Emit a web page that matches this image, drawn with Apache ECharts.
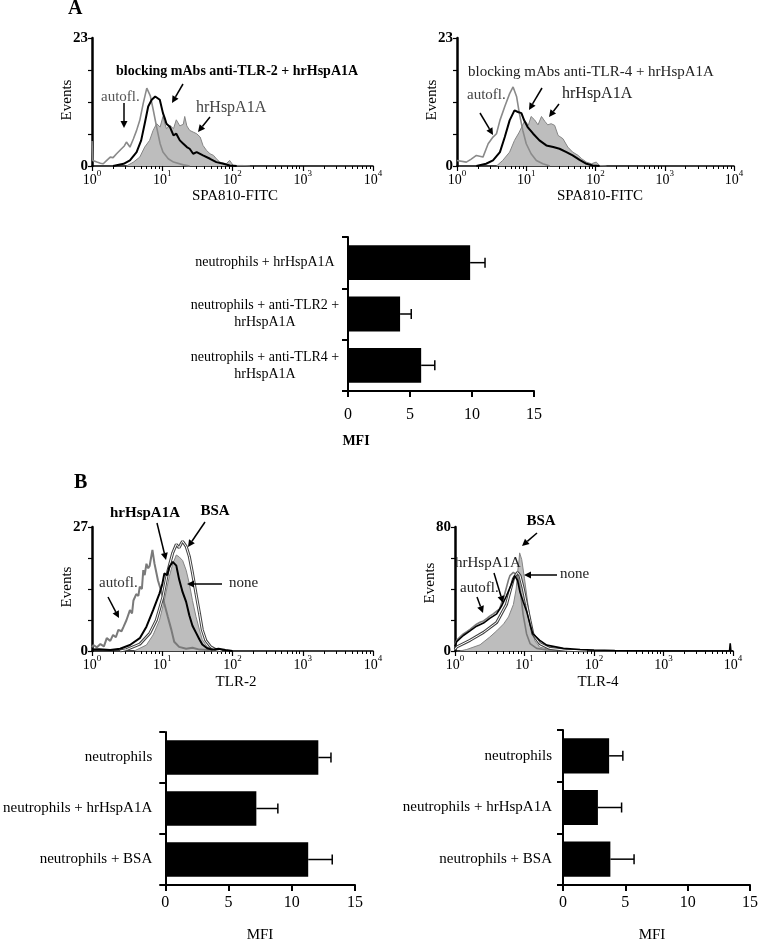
<!DOCTYPE html>
<html><head><meta charset="utf-8">
<script src="https://cdn.jsdelivr.net/npm/echarts@6/dist/echarts.min.js"></script>
<style>html,body{margin:0;padding:0;background:#fff}#c{width:761px;height:942px}</style>
</head><body><div id="c"></div>
<script>
// ---------- DATA (x = log10 fluorescence, y = events) ----------
const a1Autofl = [[0,4.5],[0.01,1.0],[0.07,0.7],[0.12,0.5],[0.16,0.4],[0.21,1.0],[0.26,1.6],[0.3,1.5],[0.35,2.2],[0.42,3.1],[0.46,3.6],[0.49,4.3],[0.54,3.4],[0.59,4.9],[0.635,6.4],[0.68,8.2],[0.73,11.3],[0.78,14.0],[0.80,14.3],[0.83,12.6],[0.87,10.2],[0.92,7.0],[0.97,4.0],[1.01,2.5],[1.085,1.3],[1.16,0.7],[1.3,0.2],[1.39,0.0]];
const a1Blocking = [[0.3,0],[0.45,0.4],[0.54,1.0],[0.635,2.5],[0.7,4.6],[0.75,7.6],[0.8,10.7],[0.85,11.9],[0.9,12.5],[0.92,12.8],[0.965,11.9],[1.01,9.5],[1.035,8.6],[1.06,7.6],[1.11,7.0],[1.16,5.5],[1.2,5.8],[1.25,4.6],[1.3,4.0],[1.35,3.4],[1.39,3.1],[1.44,2.2],[1.49,2.5],[1.58,1.9],[1.68,1.3],[1.77,0.7],[1.87,0.4],[1.96,0.1],[2.06,0]];
const a1Hsp = [[0.49,0],[0.59,0.7],[0.68,1.6],[0.75,3.4],[0.82,4.6],[0.87,6.4],[0.92,7.6],[0.97,7.0],[1.01,8.9],[1.04,7.5],[1.06,6.7],[1.11,7.3],[1.16,6.7],[1.2,8.3],[1.25,7.2],[1.3,7.5],[1.32,8.9],[1.35,7.2],[1.39,6.4],[1.44,6.1],[1.49,5.8],[1.54,5.2],[1.58,3.7],[1.63,2.8],[1.68,2.2],[1.73,1.9],[1.77,1.3],[1.82,0.7],[1.91,0.4],[1.96,1.0],[2.01,0.1],[2.15,0.1],[2.25,0]];

const a2Autofl = [[0,1.0],[0.01,0.7],[0.135,0.7],[0.2,1.2],[0.28,1.9],[0.375,1.6],[0.45,4.0],[0.52,5.2],[0.57,5.8],[0.62,8.2],[0.69,10.7],[0.76,13.0],[0.81,14.2],[0.86,12.5],[0.9,9.5],[0.95,6.4],[1.0,4.0],[1.07,2.2],[1.146,1.0],[1.24,0.4],[1.34,0]];
const a2Blocking = [[0.28,0],[0.42,0.4],[0.52,1.0],[0.62,2.5],[0.69,5.2],[0.76,8.2],[0.83,10.0],[0.88,9.7],[0.93,9.5],[0.97,8.2],[1.02,7.0],[1.1,5.8],[1.19,4.6],[1.29,3.7],[1.39,3.4],[1.48,3.1],[1.58,2.5],[1.67,1.9],[1.77,1.1],[1.87,0.4],[1.96,0.1],[2.06,0]];
const a2Hsp = [[0.57,0],[0.66,1.0],[0.76,2.5],[0.83,4.6],[0.9,6.1],[0.98,8.2],[1.03,7.3],[1.07,8.9],[1.12,8.3],[1.17,7.4],[1.22,8.9],[1.27,8.0],[1.31,7.4],[1.36,7.6],[1.41,7.3],[1.46,5.5],[1.53,4.9],[1.6,3.4],[1.67,2.5],[1.75,1.9],[1.8,1.3],[1.87,0.7],[1.94,0.4],[2.01,0.7],[2.06,0.1],[2.16,0]];

const b1Autofl = [[0.0,0.8],[0.02,1.3],[0.07,0.8],[0.12,1.5],[0.17,1.0],[0.21,2.8],[0.26,2.2],[0.3,3.5],[0.34,3.0],[0.375,4.6],[0.42,4.3],[0.45,5.3],[0.49,6.7],[0.54,8.9],[0.57,8.2],[0.59,11.0],[0.63,12.4],[0.66,12.0],[0.68,14.0],[0.71,13.5],[0.73,17.6],[0.75,16.5],[0.775,19.0],[0.8,18.0],[0.82,18.5],[0.86,22.0],[0.89,19.0],[0.94,15.3],[0.99,12.8],[1.03,10.3],[1.08,7.4],[1.13,4.6],[1.17,2.0],[1.24,0.9],[1.34,0.5],[1.43,0.7],[1.53,0.3],[1.65,0.2],[1.8,0]];
const b1Hsp = [[0.0,0.3],[0.1,0.4],[0.26,0.2],[0.4,0.5],[0.54,1.3],[0.68,2.8],[0.775,5.3],[0.87,8.9],[0.96,12.5],[1.0,14.5],[1.03,16.9],[1.07,16.5],[1.1,18.3],[1.15,19.4],[1.2,18.6],[1.24,15.6],[1.29,12.8],[1.34,10.7],[1.385,7.8],[1.43,5.5],[1.48,4.0],[1.53,2.5],[1.57,1.4],[1.64,0.6],[1.71,0.3],[1.8,0.5],[1.9,0.2],[2.0,0]];
const b1Bsa = [[0.4,0],[0.49,0.3],[0.68,1.5],[0.82,3.8],[0.915,6.7],[1.01,11.8],[1.08,17.4],[1.15,21.4],[1.2,23.2],[1.24,22.5],[1.27,23.4],[1.29,23.9],[1.34,22.8],[1.385,20.6],[1.43,17.0],[1.48,12.5],[1.53,8.2],[1.57,4.6],[1.62,2.3],[1.69,0.9],[1.76,0.3],[1.85,0]];
const b1None = [[0.6,0],[0.775,1.3],[0.87,3.5],[0.96,6.7],[1.03,11.0],[1.1,16.2],[1.15,19.0],[1.2,20.9],[1.24,20.5],[1.29,19.7],[1.34,17.6],[1.385,14.7],[1.43,11.0],[1.48,7.5],[1.53,4.6],[1.57,2.5],[1.64,0.9],[1.71,0.3],[1.8,0]];

const b2Autofl = [[0,4],[0.024,6.9],[0.07,9],[0.12,11.0],[0.17,12.5],[0.216,14.0],[0.26,15.5],[0.31,17.3],[0.36,18.5],[0.41,19.4],[0.46,21.0],[0.5,22.5],[0.55,24],[0.6,25.7],[0.64,27],[0.67,30.9],[0.71,36],[0.74,41],[0.77,46],[0.79,48.6],[0.84,50.7],[0.86,51.7],[0.9,48.6],[0.935,40.7],[0.98,23.6],[1.03,11.0],[1.08,4.8],[1.175,1.7],[1.32,0.6],[1.5,0.3],[1.7,0]];
const b2Hsp = [[0,3],[0.024,6],[0.12,10],[0.216,13],[0.31,16],[0.41,18],[0.5,21],[0.6,24],[0.67,29],[0.74,35.5],[0.81,43],[0.86,48.6],[0.9,45.5],[0.935,38],[0.98,32],[1.03,25.7],[1.08,17.3],[1.12,11.0],[1.22,6.9],[1.32,3.8],[1.56,1.7],[1.8,1.0],[2.0,0.6],[2.3,0.3],[2.6,0.2],[3.0,0],[3.95,0],[3.96,5],[3.97,0],[4,0]];
const b2Bsa = [[0,1],[0.024,2.6],[0.216,6.9],[0.41,12],[0.6,18.4],[0.74,30],[0.84,46.6],[0.9,50.7],[0.935,48.6],[0.98,40.7],[1.03,30],[1.08,19.4],[1.12,11],[1.22,4.8],[1.36,1.7],[1.6,0.5],[1.9,0]];
const b2None = [[0.07,0],[0.17,1.0],[0.36,4],[0.5,9],[0.6,13],[0.7,17.5],[0.77,22],[0.84,30],[0.88,40],[0.9,50.7],[0.92,58],[0.93,63.3],[0.96,59],[1.0,46.6],[1.05,29.9],[1.1,15.2],[1.15,6.5],[1.22,2.5],[1.36,1.0],[1.6,0.3],[1.8,0]];

const histYMax = [23, 23, 27, 80];
const decades = [0, 1, 2, 3, 4];

const aBarCats = ['neutrophils + hrHspA1A', 'neutrophils + anti-TLR2 +\nhrHspA1A', 'neutrophils + anti-TLR4 +\nhrHspA1A'];
const aBarMean = [9.85, 4.2, 5.9];
const aBarErr = [1.2, 0.9, 1.1];
const bBarCats = ['neutrophils', 'neutrophils + hrHspA1A', 'neutrophils + BSA'];
const bTlr2Mean = [12.1, 7.2, 11.3];
const bTlr2Err = [1.0, 1.7, 1.9];
const bTlr4Mean = [3.7, 2.8, 3.8];
const bTlr4Err = [1.1, 1.9, 1.9];
const mfiTicks = [0, 5, 10, 15];

// ---------- BUILD ----------
const FONT = '"Liberation Serif", "Times New Roman", serif';
const minorTicks = [];
for (let d = 0; d < 4; d++) for (let k = 2; k <= 9; k++) minorTicks.push(d + Math.log10(k));

const grids = [
  {left: 92, top: 38, width: 281, height: 128},
  {left: 457, top: 38, width: 277, height: 128},
  {left: 348, top: 237, width: 186, height: 154},
  {left: 92, top: 527, width: 281, height: 124},
  {left: 455, top: 527, width: 278, height: 124},
  {left: 163, top: 732, width: 192, height: 153},
  {left: 563, top: 730, width: 191, height: 155}
];

const xAxes = [], yAxes = [], series = [];
const histGrid = [0, 1, 3, 4];
const histX = [];
histGrid.forEach((g, i) => {
  histX.push(xAxes.length);
  xAxes.push({type: 'value', gridIndex: g, position: 'bottom', min: decades[0], max: decades[decades.length-1], interval: 1,
    axisLine: {show: true, onZero: false, lineStyle: {color: '#000', width: 1.5}},
    axisTick: {show: true, length: 5, lineStyle: {color: '#000', width: 1.2}},
    splitLine: {show: false},
    axisLabel: {margin: 3, color: '#000', formatter: v => '{b|10}{s|' + v + '}',
      rich: {b: {fontSize: 14, fontFamily: FONT, color: '#000', verticalAlign: 'bottom', lineHeight: 18},
             s: {fontSize: 9, fontFamily: FONT, color: '#000', verticalAlign: 'top', lineHeight: 18}}}
  });
  xAxes.push({type: 'value', gridIndex: g, position: 'bottom', min: 0, max: 4,
    axisLine: {show: false, onZero: false}, splitLine: {show: false}, axisLabel: {show: false},
    axisTick: {show: true, length: 3, customValues: minorTicks, lineStyle: {color: '#000', width: 1}}
  });
  const ym = histYMax[i];
  yAxes.push({type: 'value', gridIndex: g, min: 0, max: ym, interval: ym / 4,
    axisLine: {show: true, lineStyle: {color: '#000', width: 2.5}},
    axisTick: {show: true, length: 4, lineStyle: {color: '#000', width: 1.2}},
    splitLine: {show: false},
    axisLabel: {margin: 4, color: '#000', fontFamily: FONT, fontSize: 15, fontWeight: 'bold',
      formatter: v => (v === 0 || Math.abs(v - ym) < 1e-6) ? String(v) : ''}
  });
});

function barAxes(g, cats, labelOpts) {
  const xi = xAxes.length, yi = yAxes.length;
  xAxes.push({type: 'value', gridIndex: g, position: 'bottom', min: mfiTicks[0], max: mfiTicks[mfiTicks.length-1], interval: 5,
    axisLine: {show: true, onZero: false, lineStyle: {color: '#000', width: 2}},
    axisTick: {show: true, length: 6, lineStyle: {color: '#000', width: 2}},
    splitLine: {show: false},
    axisLabel: {margin: labelOpts.xMargin, color: '#000', fontFamily: FONT, fontSize: 16}
  });
  yAxes.push({type: 'category', gridIndex: g, data: cats, inverse: true,
    axisLine: {show: true, lineStyle: {color: '#000', width: 2}},
    axisTick: {show: true, length: 6, lineStyle: {color: '#000', width: 2}},
    splitLine: {show: false},
    axisLabel: {margin: labelOpts.yMargin, align: labelOpts.align, color: '#000', fontFamily: FONT,
      fontSize: labelOpts.fontSize, lineHeight: labelOpts.fontSize + 3}
  });
  return [xi, yi];
}
const aBarAx = barAxes(2, aBarCats, {xMargin: 16, yMargin: 83, align: 'center', fontSize: 14});
const bLAx = barAxes(5, bBarCats, {xMargin: 10, yMargin: 13, align: 'right', fontSize: 15});
const bRAx = barAxes(6, bBarCats, {xMargin: 10, yMargin: 11, align: 'right', fontSize: 15});

function fillSeries(data, hi) {
  return {type: 'line', xAxisIndex: histX[hi], yAxisIndex: hi, data: data, showSymbol: false, symbol: 'none',
    lineStyle: {color: '#858585', width: 1}, areaStyle: {color: '#bdbdbd', opacity: 1}, z: 2, silent: true};
}
function lineSeries(data, hi, color, width, z) {
  return {type: 'line', xAxisIndex: histX[hi], yAxisIndex: hi, data: data, showSymbol: false, symbol: 'none',
    lineStyle: {color: color, width: width}, z: z || 3, silent: true};
}
// A1
series.push(fillSeries(a1Hsp, 0), lineSeries(a1Autofl, 0, '#8a8a8a', 1.6), lineSeries(a1Blocking, 0, '#000', 2, 4));
// A2
series.push(fillSeries(a2Hsp, 1), lineSeries(a2Autofl, 1, '#8a8a8a', 1.6), lineSeries(a2Blocking, 1, '#000', 2, 4));
// B1
series.push(fillSeries(b1None, 2), lineSeries(b1Autofl, 2, '#7a7a7a', 2),
  lineSeries(b1Bsa, 2, '#444', 3, 4), lineSeries(b1Bsa, 2, '#fff', 1, 5), lineSeries(b1Hsp, 2, '#000', 2, 6));
// B2
series.push(fillSeries(b2None, 3), lineSeries(b2Autofl, 3, '#7a7a7a', 1.6),
  lineSeries(b2Bsa, 3, '#444', 3, 4), lineSeries(b2Bsa, 3, '#fff', 1, 5), lineSeries(b2Hsp, 3, '#000', 1.6, 6));

function errRender(params, api) {
  const m = api.value(0), c = api.value(1), e = api.value(2);
  const p0 = api.coord([m, c]), p1 = api.coord([m + e, c]);
  const h = 5;
  return {type: 'group', children: [
    {type: 'line', shape: {x1: p0[0], y1: p0[1], x2: p1[0], y2: p1[1]}, style: {stroke: '#000', lineWidth: 1.5}},
    {type: 'line', shape: {x1: p1[0], y1: p1[1] - h, x2: p1[0], y2: p1[1] + h}, style: {stroke: '#000', lineWidth: 1.5}}
  ]};
}
function barSet(ax, means, errs) {
  series.push({type: 'bar', xAxisIndex: ax[0], yAxisIndex: ax[1], data: means, barWidth: '68%',
    itemStyle: {color: '#000'}, silent: true, z: 2});
  series.push({type: 'custom', xAxisIndex: ax[0], yAxisIndex: ax[1], renderItem: errRender, z: 3, silent: true,
    encode: {x: 0, y: 1}, data: means.map((m, i) => [m, i, errs[i]])});
}
barSet(aBarAx, aBarMean, aBarErr);
barSet(bLAx, bTlr2Mean, bTlr2Err);
barSet(bRAx, bTlr4Mean, bTlr4Err);

// ---------- ANNOTATIONS ----------
const G = [];
function txt(t, x, y, o) {
  o = o || {};
  G.push({type: 'text', x: x, y: y, rotation: o.rot || 0, z: 100, silent: true,
    style: {text: t, fontFamily: FONT, fontSize: o.size || 15, fontWeight: o.bold ? 'bold' : 'normal',
      fill: o.color || '#000', align: o.align || 'left', verticalAlign: 'middle'}});
}
function arrow(x1, y1, x2, y2) {
  const ang = Math.atan2(y2 - y1, x2 - x1), L = 7, W = 3.5;
  const bx = x2 - L * Math.cos(ang), by = y2 - L * Math.sin(ang);
  const px = -Math.sin(ang) * W, py = Math.cos(ang) * W;
  G.push({type: 'line', z: 100, silent: true, shape: {x1: x1, y1: y1, x2: bx, y2: by}, style: {stroke: '#000', lineWidth: 1.5}});
  G.push({type: 'polygon', z: 100, silent: true, shape: {points: [[x2, y2], [bx + px, by + py], [bx - px, by - py]]}, style: {fill: '#000'}});
}
txt('A', 68, 9, {size: 20, bold: true});
txt('B', 74, 483, {size: 20, bold: true});
// A1
txt('blocking mAbs anti-TLR-2 + hrHspA1A', 116, 71, {size: 14, bold: true});
txt('autofl.', 101, 97, {color: '#555'});
txt('hrHspA1A', 196, 108, {size: 16, color: '#444'});
arrow(183, 84, 172, 103); arrow(124, 103, 124, 128); arrow(210, 117, 198, 132);
txt('Events', 67, 100, {rot: Math.PI / 2, align: 'center'});
txt('SPA810-FITC', 235, 196, {align: 'center'});
// A2
txt('blocking mAbs anti-TLR-4 + hrHspA1A', 468, 72, {size: 15, color: '#222'});
txt('autofl.', 467, 95, {color: '#444'});
txt('hrHspA1A', 562, 94, {size: 16, color: '#222'});
arrow(480, 113, 493, 135); arrow(542, 88, 529, 110); arrow(559, 104, 549, 117);
txt('Events', 432, 100, {rot: Math.PI / 2, align: 'center'});
txt('SPA810-FITC', 600, 196, {align: 'center'});
// A bar
txt('MFI', 356, 441, {align: 'center', bold: true, size: 14});
// B1
txt('hrHspA1A', 145, 513, {align: 'center', bold: true});
txt('BSA', 215, 511, {align: 'center', bold: true});
txt('autofl.', 99, 583, {color: '#333'});
txt('none', 229, 583, {color: '#222'});
arrow(157, 523, 166, 560); arrow(205, 522, 188, 547); arrow(108, 597, 119, 618); arrow(222, 584, 187, 584);
txt('Events', 67, 587, {rot: Math.PI / 2, align: 'center'});
txt('TLR-2', 236, 682, {align: 'center'});
// B2
txt('BSA', 541, 521, {align: 'center', bold: true});
txt('hrHspA1A', 455, 563, {color: '#222'});
txt('autofl.', 460, 588, {color: '#222'});
txt('none', 560, 574, {color: '#222'});
arrow(537, 533, 522, 546); arrow(494, 573, 503, 603); arrow(477, 597, 483, 613); arrow(557, 575, 524, 575);
txt('Events', 430, 583, {rot: Math.PI / 2, align: 'center'});
txt('TLR-4', 598, 682, {align: 'center'});
// B bars
txt('MFI', 260, 935, {align: 'center'});
txt('MFI', 652, 935, {align: 'center'});

const chart = echarts.init(document.getElementById('c'), null, {renderer: 'canvas'});
chart.setOption({
  backgroundColor: '#fff',
  animation: false,
  textStyle: {fontFamily: FONT},
  grid: grids,
  xAxis: xAxes,
  yAxis: yAxes,
  series: series,
  graphic: G
});
</script></body></html>
